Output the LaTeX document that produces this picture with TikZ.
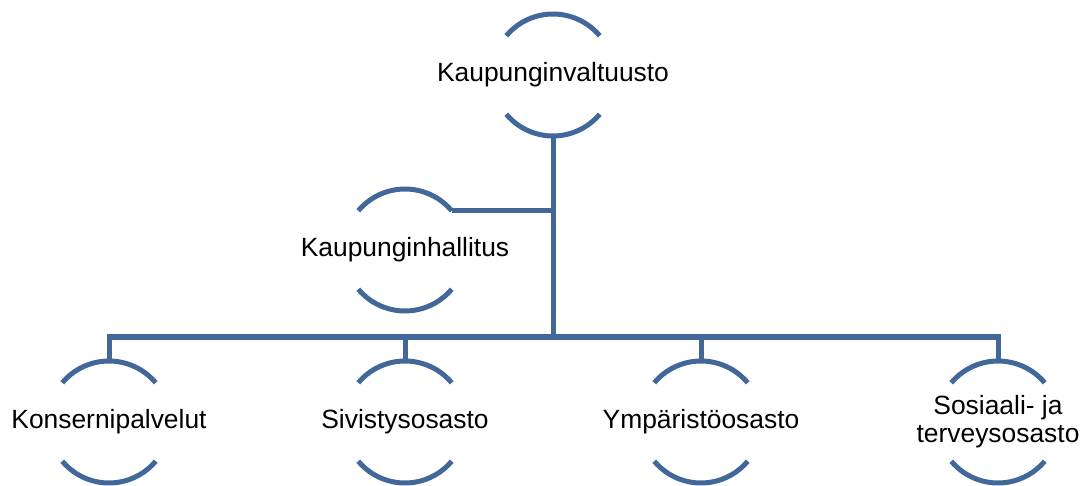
\documentclass[tikz,border=0pt]{standalone}
\usepackage{fontspec}
\setmainfont{Liberation Sans}
\usetikzlibrary{calc}
\definecolor{orgblue}{RGB}{66,104,154}
\begin{document}
\begin{tikzpicture}[x=1pt,y=1pt,
  unit/.style={inner sep=0pt,outer sep=0pt,align=center,
    font=\fontsize{26.4}{28}\selectfont},
  conn/.style={draw=orgblue,line width=5pt,line join=miter}]
\useasboundingbox (0,0) rectangle (1087,-486);
\node[unit] (kv) at (553,-75) {Kaupunginvaltuusto};
\node[unit] (kh) at (405,-250) {Kaupunginhallitus};
\node[unit] (kp) at (109,-422) {Konsernipalvelut};
\node[unit] (si) at (405,-422) {Sivistysosasto};
\node[unit] (ym) at (701,-422) {Ympäristöosasto};
\node[unit] (so) at (998,-422) {Sosiaali- ja\\terveysosasto};
\foreach \n in {kv,kh,kp,si,ym,so}{
  \coordinate (\n-t) at ($(\n.center)+(0,61)$);
  \coordinate (\n-b) at ($(\n.center)+(0,-61)$);
  \coordinate (\n-r) at ($(\n.center)+(40:61)$);
  \draw[conn] ($(\n.center)+(40:61)$) arc[start angle=40,end angle=140,radius=61pt];
  \draw[conn] ($(\n.center)+(220:61)$) arc[start angle=220,end angle=320,radius=61pt];
}
\coordinate (bus) at (553,-337);
\draw[conn] (kv-b) -- (bus);
\draw[conn] (kh-r) -- (kh-r -| kv-b);
\draw[conn] (kp-t) -- (kp-t |- bus) -- (so-t |- bus) -- (so-t);
\draw[conn] (si-t) -- (si-t |- bus);
\draw[conn] (ym-t) -- (ym-t |- bus);
\end{tikzpicture}
\end{document}
